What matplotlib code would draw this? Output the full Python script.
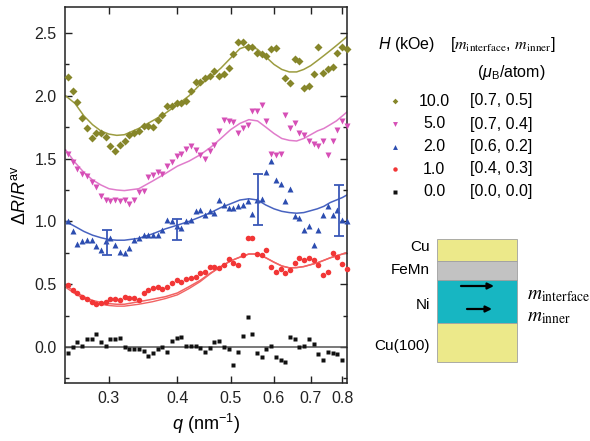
import numpy as np
import matplotlib.pyplot as plt
from matplotlib.patches import Rectangle
from matplotlib.ticker import NullLocator, MultipleLocator

plt.rcParams['font.family'] = ['Liberation Sans', 'DejaVu Sans']
plt.rcParams['mathtext.fontset'] = 'custom'
plt.rcParams['mathtext.rm'] = 'Liberation Sans'
plt.rcParams['mathtext.it'] = 'Liberation Sans:italic'
plt.rcParams['mathtext.bf'] = 'Liberation Sans:bold'

nan = np.nan

# measured q points (nm^-1)
q = [0.2525, 0.2576, 0.2628, 0.2680, 0.2734, 0.2789, 0.2845, 0.2902, 0.2960, 0.3019,
     0.3080, 0.3141, 0.3204, 0.3269, 0.3334, 0.3401, 0.3469, 0.3539, 0.3610, 0.3682,
     0.3756, 0.3831, 0.3908, 0.3986, 0.4066, 0.4148, 0.4231, 0.4316, 0.4402, 0.4491,
     0.4581, 0.4672, 0.4766, 0.4862, 0.4959, 0.5058, 0.5160, 0.5263, 0.5369, 0.5476,
     0.5586, 0.5698, 0.5812, 0.5929, 0.6048, 0.6169, 0.6293, 0.6419, 0.6548, 0.6679,
     0.6813, 0.6950, 0.7089, 0.7231, 0.7376, 0.7524, 0.7675, 0.7829, 0.7986, 0.8146]

# dR/R_av for each field (curves offset vertically)
dr_10 = [2.15, 2.04, 1.95, 1.82, 1.74, 1.66, 1.70, 1.70, 1.67, 1.60,
         1.56, 1.61, 1.64, 1.69, 1.70, 1.72, 1.76, 1.76, 1.75, 1.81,
         1.85, 1.92, 1.92, 1.94, 1.94, 1.96, 2.04, 2.11, 2.11, 2.14,
         2.16, 2.20, 2.16, 2.17, 2.22, 2.33, 2.43, 2.43, 2.39, 2.39,
         2.34, 2.33, 2.32, 2.37, 2.38, nan, 2.14, 2.10, 2.29, 2.28,
         2.06, 2.08, 2.17, 2.39, 2.18, 2.21, 2.23, 2.34, 2.39, 2.37]
dr_5 = [1.54, 1.47, 1.42, 1.38, 1.36, 1.31, 1.27, 1.20, 1.17, 1.16,
        1.17, 1.16, 1.17, 1.14, 1.17, 1.23, 1.24, 1.35, 1.37, 1.39,
        1.38, 1.44, 1.47, 1.52, 1.54, 1.58, 1.60, 1.57, 1.53, 1.50,
        1.56, 1.61, 1.72, 1.81, 1.80, 1.79, 1.70, 1.74, 1.77, 1.88,
        1.88, 1.93, 1.80, 1.54, 1.53, 1.54, 1.85, 1.74, 1.78, 1.70,
        1.69, 1.64, 1.62, 1.60, 1.64, 1.53, 1.64, 1.73, 1.80, 1.76]
dr_2 = [1.00, 0.92, 0.82, 0.84, 0.85, 0.85, 0.80, 0.77, 0.84, 0.87,
        0.81, 0.76, 0.75, 0.79, 0.85, 0.87, 0.89, 0.89, 0.89, 0.89,
        0.93, 1.01, 1.00, 0.96, 0.95, 1.00, 1.01, 1.08, 1.09, 1.05,
        1.08, 1.07, 1.17, 1.13, 1.11, 1.11, 1.12, 1.13, 1.16, 1.06,
        1.17, 1.18, 1.39, 1.48, 1.33, 1.30, 1.16, 1.26, 1.04, 1.03,
        0.93, 0.96, 0.81, 0.93, 1.05, 1.12, 1.05, 1.09, 1.01, 1.00]
dr_1 = [0.49, 0.45, 0.43, 0.40, 0.38, 0.36, 0.34, 0.35, 0.36, 0.38,
        0.38, 0.37, 0.40, 0.39, 0.39, 0.37, 0.43, 0.45, 0.47, 0.48,
        0.46, 0.48, 0.51, 0.53, 0.52, 0.54, 0.55, 0.56, 0.59, 0.60,
        0.64, 0.64, 0.63, 0.65, 0.70, 0.67, 0.65, 0.73, 0.87, 0.87,
        0.74, 0.73, 0.77, 0.64, 0.60, 0.62, 0.59, 0.61, 0.67, 0.71,
        0.69, 0.71, 0.69, 0.65, 0.57, 0.60, 0.75, 0.72, 0.66, 0.62]
dr_0 = [-0.05, 0.00, 0.04, 0.01, 0.06, 0.06, 0.10, 0.04, 0.01, 0.06,
        0.06, 0.07, 0.00, -0.02, -0.02, -0.02, -0.03, -0.07, -0.05, -0.02,
        0.00, -0.04, 0.05, 0.07, 0.08, 0.01, 0.01, 0.01, -0.01, -0.04,
        -0.01, 0.04, 0.05, 0.00, -0.02, -0.14, -0.04, 0.09, 0.24, 0.10,
        -0.05, -0.08, -0.02, 0.01, -0.08, -0.10, -0.12, 0.08, 0.06, 0.00,
        0.01, 0.06, 0.02, -0.06, -0.10, -0.04, -0.05, -0.06, -0.10, nan]

# model curves
q_fit = [0.25, 0.26, 0.27, 0.28, 0.29, 0.30, 0.31, 0.32, 0.34, 0.36, 0.38,
         0.40, 0.42, 0.44, 0.46, 0.48, 0.50, 0.52, 0.54, 0.56, 0.58, 0.60,
         0.62, 0.64, 0.66, 0.68, 0.70, 0.72, 0.74, 0.76, 0.78, 0.80, 0.815]
fit_10 = [2.00, 1.94, 1.84, 1.77, 1.72, 1.695, 1.685, 1.69, 1.74, 1.80, 1.86,
          1.93, 2.00, 2.09, 2.15, 2.22, 2.30, 2.375, 2.40, 2.37, 2.31, 2.25,
          2.21, 2.19, 2.19, 2.21, 2.24, 2.28, 2.32, 2.36, 2.40, 2.44, 2.47]
fit_5 = [1.57, 1.47, 1.39, 1.33, 1.29, 1.26, 1.25, 1.245, 1.26, 1.32, 1.38,
         1.44, 1.48, 1.53, 1.59, 1.66, 1.73, 1.78, 1.81, 1.80, 1.75, 1.70,
         1.66, 1.645, 1.64, 1.66, 1.69, 1.72, 1.74, 1.77, 1.80, 1.84, 1.87]
fit_2 = [1.00, 0.96, 0.92, 0.89, 0.87, 0.855, 0.85, 0.85, 0.865, 0.90, 0.94,
         0.97, 1.00, 1.035, 1.07, 1.11, 1.14, 1.17, 1.18, 1.17, 1.13, 1.10,
         1.08, 1.07, 1.065, 1.07, 1.085, 1.10, 1.12, 1.15, 1.17, 1.19, 1.21]
fit_1 = [0.49, 0.44, 0.40, 0.37, 0.355, 0.345, 0.34, 0.34, 0.36, 0.38, 0.40,
         0.43, 0.48, 0.53, 0.59, 0.64, 0.685, 0.715, 0.74, 0.74, 0.71, 0.675,
         0.645, 0.63, 0.632, 0.64, 0.655, 0.67, 0.69, 0.71, 0.725, 0.74, 0.75]
# second 1 kOe curve, runs just under the first at low q
fit_1b = [0.475, 0.425, 0.385, 0.355, 0.34, 0.33, 0.325, 0.325, 0.34, 0.36, 0.385,
          0.415, 0.465, 0.52, 0.585, 0.64, 0.685, 0.715, 0.74, 0.74, 0.71, 0.675,
          0.645, 0.63, 0.632, 0.64, 0.655, 0.67, 0.69, 0.71, 0.725, 0.74, 0.75]
fit_0 = [0.0] * len(q_fit)

# error bars on the 2 kOe data
err_q = [0.2975, 0.400, 0.562, 0.7895]
err_mid = [0.83, 0.935, 1.175, 1.085]
err_half = [0.10, 0.085, 0.205, 0.205]

fields = ['10.0', '5.0', '2.0', '1.0', '0.0']
moments = ['[0.7, 0.5]', '[0.7, 0.4]', '[0.6, 0.2]', '[0.4, 0.3]', '[0.0, 0.0]']

series = [
    (dr_10, fit_10, 'D', 3.6, '#86862a', '#9c9c40'),
    (dr_5, fit_5, 'v', 4.4, '#d64fb6', '#e07ccb'),
    (dr_2, fit_2, '^', 4.4, '#2c4db0', '#4863c0'),
    (dr_1, fit_1, 'o', 4.0, '#f23636', '#f26262'),
    (dr_0, fit_0, 's', 3.4, '#111111', '#555555'),
]

fig = plt.figure(figsize=(5.9, 4.41), dpi=100)
ax = fig.add_axes([65 / 590, 1 - 383 / 441, 282 / 590, 376 / 441])

for vals, fit, mk, ms, c_pt, c_fit in series:
    ax.plot(q_fit, fit, color=c_fit, lw=1.1, zorder=2)
    ax.plot(q, vals, ls='none', marker=mk, ms=ms, color=c_pt, mec='none',
            zorder=3, clip_on=False)
ax.plot(q_fit, fit_1b, color='#f26262', lw=1.0, zorder=2)

ax.errorbar(err_q, err_mid, yerr=err_half, fmt='none', ecolor='#3a58b8',
            elinewidth=1.3, capsize=3.5, capthick=1.3, zorder=4)

ax.set_xscale('log')
ax.set_xlim(0.2494, 0.8155)
ax.set_ylim(-0.287, 2.707)
ax.set_xticks([0.3, 0.4, 0.5, 0.6, 0.7, 0.8])
ax.set_xticklabels(['0.3', '0.4', '0.5', '0.6', '0.7', '0.8'])
ax.xaxis.set_minor_locator(NullLocator())
ax.yaxis.set_major_locator(MultipleLocator(0.5))
ax.yaxis.set_minor_locator(MultipleLocator(0.25))
ax.set_yticks([0.0, 0.5, 1.0, 1.5, 2.0, 2.5])
ax.set_yticklabels(['0.0', '0.5', '1.0', '1.5', '2.0', '2.5'])
ax.tick_params(which='both', direction='in', top=True, right=True,
               labelsize=11.5, colors='#222222', width=1.0)
ax.tick_params(which='major', length=5, pad=6)
ax.tick_params(which='minor', length=3)
for sp in ax.spines.values():
    sp.set_linewidth(1.1)
    sp.set_color('#222222')

ax.set_ylabel(r'$\mathit{\Delta R/R}^{\mathrm{av}}$', fontsize=13, labelpad=4)
ax.set_xlabel(r'$q$ (nm$^{-1}$)', fontsize=13, labelpad=4)

# side panel in pixel coordinates: legend table and layer sketch
side = fig.add_axes([0, 0, 1, 1])
side.set_xlim(0, 590)
side.set_ylim(441, 0)
side.axis('off')
side.patch.set_visible(False)

side.text(378, 45, r'$H$ (kOe)', fontsize=11.5, va='center', ha='left')
side.text(450, 45, r'[$m_{\mathrm{interface}}$, $m_{\mathrm{inner}}$]',
          fontsize=11.5, va='center', ha='left', math_fontfamily='stix')
side.text(511, 72, r'($\mu_{\mathrm{B}}$/atom)', fontsize=11.5,
          va='center', ha='center')

row_y = [101, 124, 146.5, 169, 191.5]
for k, (vals, fit, mk, ms, c_pt, c_fit) in enumerate(series):
    side.plot(395, row_y[k], marker=mk, ms=ms * 0.8, color=c_pt, mec='none')
    side.text(434, row_y[k], fields[k], fontsize=11.5, va='center', ha='center')
    side.text(470, row_y[k], moments[k], fontsize=11.5, va='center', ha='left')

layers = [(239, 261, '#ece98a', 'Cu'),
          (261, 280, '#c2c2c2', 'FeMn'),
          (280, 323, '#17b6c2', 'Ni'),
          (323, 362, '#ece98a', 'Cu(100)')]
label_y = [247, 270, 305, 346]
for (y0, y1, col, name), ly in zip(layers, label_y):
    side.add_patch(Rectangle((437, y0), 80, y1 - y0, facecolor=col,
                             edgecolor='#a0a0a0', lw=0.6))
    side.text(430, ly, name, fontsize=11, va='center', ha='right')

side.annotate('', xy=(494, 286), xytext=(461, 286),
              arrowprops=dict(arrowstyle='-|>', color='black', lw=1.6,
                              mutation_scale=9, shrinkA=0, shrinkB=0))
side.annotate('', xy=(492, 309), xytext=(467, 309),
              arrowprops=dict(arrowstyle='-|>', color='black', lw=1.6,
                              mutation_scale=9, shrinkA=0, shrinkB=0))
side.text(527, 296, r'$m_{\mathrm{interface}}$', fontsize=14, va='center',
          ha='left', math_fontfamily='stix')
side.text(527, 318, r'$m_{\mathrm{inner}}$', fontsize=14, va='center',
          ha='left', math_fontfamily='stix')

fig.savefig('out.png', dpi=100)
